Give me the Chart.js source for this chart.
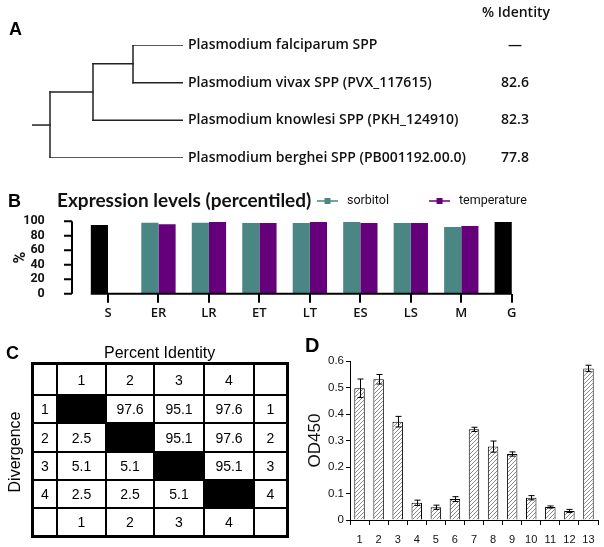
<!DOCTYPE html>
<html>
<head>
<meta charset="utf-8">
<script src="https://cdn.jsdelivr.net/npm/chart.js@4.4.1/dist/chart.umd.min.js"></script>
<style>
  body { margin:0; width:604px; height:547px; position:relative; background:#fff; overflow:hidden; font-family:Arial, "Liberation Sans", sans-serif; }
  canvas { position:absolute; }
  .letter { position:absolute; font:bold 18px Arial, "Liberation Sans", sans-serif; line-height:20px; }
  .ctitle { position:absolute; font:16px Arial, "Liberation Sans", sans-serif; line-height:18px; white-space:nowrap; }
  #tbl { position:absolute; left:31px; top:362px; border:3px solid #000; display:grid;
         grid-template-columns:24px 49px 48px 50px 50px 31px; grid-template-rows:31px 28px 29px 28px 28px 26px; }
  #tbl div { border-right:2px solid #000; border-bottom:2px solid #000; font:14px Arial, "Liberation Sans", sans-serif;
             display:flex; align-items:center; justify-content:center; }
  #tbl div.lastc { border-right:none; }
  #tbl div.lastr { border-bottom:none; }
  #tbl div.diag { background:#000; }
</style>
</head>
<body>
<canvas id="treeChart" width="604" height="175" style="left:0;top:0"></canvas>
<canvas id="exprChart" width="604" height="145" style="left:0;top:185px"></canvas>
<canvas id="odChart" width="304" height="207" style="left:300px;top:340px"></canvas>

<div class="letter" style="left:9px;top:19px">A</div>
<div class="letter" style="left:8px;top:191px">B</div>
<div class="letter" style="left:6px;top:343px">C</div>
<div class="letter" style="left:305px;top:335px;font-size:20px">D</div>

<div class="ctitle" style="left:104px;top:344px">Percent Identity</div>
<div class="ctitle" style="left:15px;top:452px;transform:translate(-50%,-50%) rotate(-90deg)">Divergence</div>
<div id="tbl"></div>

<script>
// ---- Panel A: tree + % identity ----
const leafNames = ["Plasmodium falciparum SPP", "Plasmodium vivax SPP (PVX_117615)",
                   "Plasmodium knowlesi SPP (PKH_124910)", "Plasmodium berghei SPP (PB001192.00.0)"];
const identity = ["\u2014", "82.6", "82.3", "77.8"];
const tree = [[[0, 1], 2], 3];        // nested clades, numbers are leaf indices
const cladeDepth = [18, 61, 101];     // node position of each clade, outer -> inner
const tipDepth = 151;

// ---- Panel B: expression levels ----
const stages = ["S", "ER", "LR", "ET", "LT", "ES", "LS", "M", "G"];
const sorbitol = [null, 98, 98, 97.5, 97.5, 99, 97.5, 92, null];
const temperature = [null, 96, 99, 97.5, 99, 97.5, 97.5, 93.5, null];
const control = [95, null, null, null, null, null, null, null, 99];
const pctTicks = [0, 20, 40, 60, 80, 100];

// ---- Panel C: identity / divergence matrix ----
const seqIds = ["1", "2", "3", "4"];
const matrix = [
  [null, 97.6, 95.1, 97.6],
  [2.5, null, 95.1, 97.6],
  [5.1, 5.1, null, 95.1],
  [2.5, 2.5, 5.1, null]
];

// ---- Panel D: OD450 ----
const samples = ["1","2","3","4","5","6","7","8","9","10","11","12","13"];
const od450 = [0.497, 0.531, 0.371, 0.065, 0.048, 0.079, 0.342, 0.277, 0.249, 0.084, 0.049, 0.034, 0.572];
const od450Err = [0.035, 0.018, 0.02, 0.01, 0.008, 0.009, 0.008, 0.021, 0.008, 0.008, 0.004, 0.006, 0.012];

const teal = "#4a8683", purple = "#65007a";

// tree layout -> line segments in (depth, leaf) units
function layoutTree(node, level, segs) {
  if (typeof node === "number") return node;
  const x = cladeDepth[level];
  const ys = node.map(ch => {
    const y = layoutTree(ch, level + 1, segs);
    const xEnd = typeof ch === "number" ? tipDepth : cladeDepth[level + 1];
    segs.push([{x: x, y: y}, {x: xEnd, y: y}]);
    return y;
  });
  segs.push([{x: x, y: Math.min(...ys)}, {x: x, y: Math.max(...ys)}]);
  return (ys[0] + ys[ys.length - 1]) / 2;
}
const segs = [];
const rootY = layoutTree(tree, 0, segs);
segs.push([{x: 0, y: rootY}, {x: cladeDepth[0], y: rootY}]);

const treeLabels = {
  id: "treeLabels",
  afterDraw(chart) {
    const ctx = chart.ctx, y = chart.scales.y, right = chart.chartArea.right;
    ctx.save();
    ctx.fillStyle = "#111";
    ctx.textBaseline = "middle";
    ctx.font = "600 14px 'Open Sans'";
    ctx.textAlign = "center";
    ctx.fillText("% Identity", 516, 13);
    leafNames.forEach((n, i) => {
      const py = y.getPixelForValue(i);
      ctx.textAlign = "left";
      ctx.fillText(n, right + 5, py);
      ctx.textAlign = "center";
      ctx.fillText(identity[i], 515, py);
    });
    ctx.restore();
  }
};

new Chart(document.getElementById("treeChart"), {
  type: "scatter",
  data: { datasets: segs.map(s => ({ data: s, showLine: true, borderColor: "#222", borderWidth: 1.5,
                                     borderCapStyle: "square", pointRadius: 0 })) },
  options: {
    responsive: false, animation: false,
    layout: { padding: { left: 32, right: 421, top: 45, bottom: 17 } },
    plugins: { legend: { display: false }, tooltip: { enabled: false } },
    scales: {
      x: { type: "linear", min: 0, max: tipDepth, display: false },
      y: { type: "linear", min: 0, max: leafNames.length - 1, reverse: true, display: false }
    }
  },
  plugins: [treeLabels]
});

// ---- Panel B chart ----
function legendMarker(color) {
  const c = document.createElement("canvas");
  c.width = 21; c.height = 8;
  const g = c.getContext("2d");
  g.strokeStyle = color; g.lineWidth = 1.5;
  g.beginPath(); g.moveTo(0, 4); g.lineTo(21, 4); g.stroke();
  g.fillStyle = color; g.fillRect(7.5, 1, 6, 6);
  return c;
}

const exprDecor = {
  id: "exprDecor",
  afterDraw(chart) {
    const ctx = chart.ctx, ys = chart.scales.y, xs = chart.scales.x;
    const axisX = 72;
    ctx.save();
    ctx.strokeStyle = "#000"; ctx.lineWidth = 2;
    ctx.beginPath();
    ctx.moveTo(axisX, ys.getPixelForValue(100)); ctx.lineTo(axisX, ys.getPixelForValue(0));
    pctTicks.forEach(t => { const p = ys.getPixelForValue(t); ctx.moveTo(axisX - 8, p); ctx.lineTo(axisX, p); });
    const first = chart.getDatasetMeta(2).data[0];
    const y0 = ys.getPixelForValue(0);
    ctx.moveTo(first.x - first.width / 2, y0);
    ctx.lineTo(xs.getPixelForTick(stages.length - 1), y0);
    ctx.stroke();
    // title
    ctx.fillStyle = "#111"; ctx.textBaseline = "middle"; ctx.textAlign = "left";
    ctx.font = "bold 19px Lato";
    ctx.fillText("Expression levels (percentiled)", 57, 16);
    // legend
    ctx.font = "12.5px Roboto";
    let lx = 317;
    chart.data.datasets.filter(d => d.label !== "control").forEach(d => {
      ctx.drawImage(legendMarker(d.borderColor), lx, 12);
      ctx.fillText(d.label, lx + 30, 16);
      lx += 30 + ctx.measureText(d.label).width + 40;
    });
    ctx.restore();
  }
};

new Chart(document.getElementById("exprChart"), {
  type: "bar",
  data: {
    labels: stages,
    datasets: [
      { label: "sorbitol", data: sorbitol, backgroundColor: teal, borderColor: teal, stack: "a" },
      { label: "temperature", data: temperature, backgroundColor: purple, borderColor: purple, stack: "b" },
      { label: "control", data: control, backgroundColor: "#000", borderColor: "#000", stack: "a" }
    ]
  },
  options: {
    responsive: false, animation: false,
    categoryPercentage: 0.68, barPercentage: 1.0,
    layout: { padding: { left: 0, right: 67, top: 30, bottom: 0 } },
    plugins: { legend: { display: false }, tooltip: { enabled: false } },
    scales: {
      x: {
        grid: { display: true, drawOnChartArea: false, drawTicks: true, tickLength: 9, offset: false, color: "#000", lineWidth: 2 },
        border: { display: false },
        ticks: { color: "#111", font: { family: "Open Sans", weight: "600", size: 13 }, padding: 3 },
        afterFit(s) { s.height = 34; }
      },
      y: {
        min: 0, max: 100, stacked: false,
        afterBuildTicks(s) { s.ticks = pctTicks.map(v => ({ value: v })); },
        grid: { display: false },
        border: { display: false },
        ticks: { color: "#111", font: { family: "Roboto", weight: "bold", size: 12.5, lineHeight: 1 }, padding: 30, autoSkip: false },
        title: { display: true, text: "%", color: "#111", font: { family: "Roboto", weight: "bold", size: 16 }, padding: { top: 11 } },
        afterFit(s) { s.width = 82.75; }
      }
    }
  },
  plugins: [exprDecor]
});

// ---- Panel C table ----
const tbl = document.getElementById("tbl");
const rows = [["", ...seqIds, ""]];
matrix.forEach((r, i) => rows.push([seqIds[i], ...r.map(v => v === null ? "#" : v.toFixed(1)), seqIds[i]]));
rows.push(["", ...seqIds, ""]);
rows.forEach((r, i) => r.forEach((v, j) => {
  const d = document.createElement("div");
  if (v === "#") d.className = "diag"; else d.textContent = v;
  if (j === r.length - 1) d.classList.add("lastc");
  if (i === rows.length - 1) d.classList.add("lastr");
  tbl.appendChild(d);
}));

// ---- Panel D chart ----
function hatch() {
  const c = document.createElement("canvas");
  c.width = 4; c.height = 4;
  const g = c.getContext("2d");
  g.fillStyle = "#fff"; g.fillRect(0, 0, 4, 4);
  g.strokeStyle = "#8a8a8a"; g.lineWidth = 1;
  g.beginPath(); g.moveTo(-1, 5); g.lineTo(5, -1); g.moveTo(-1, 1); g.lineTo(1, -1); g.moveTo(3, 5); g.lineTo(5, 3); g.stroke();
  return g.createPattern(c, "repeat");
}

const errorBars = {
  id: "errorBars",
  afterDatasetsDraw(chart) {
    const ctx = chart.ctx, ys = chart.scales.y;
    ctx.save();
    ctx.strokeStyle = "#000"; ctx.lineWidth = 1;
    chart.getDatasetMeta(0).data.forEach((bar, i) => {
      const top = ys.getPixelForValue(od450[i] + od450Err[i]);
      const bot = ys.getPixelForValue(od450[i] - od450Err[i]);
      const x = Math.round(bar.x) + 0.5;
      ctx.beginPath();
      ctx.moveTo(x, top); ctx.lineTo(x, bot);
      ctx.moveTo(x - 3, top); ctx.lineTo(x + 3, top);
      ctx.moveTo(x - 3, bot); ctx.lineTo(x + 3, bot);
      ctx.stroke();
    });
    ctx.restore();
  }
};

new Chart(document.getElementById("odChart"), {
  type: "bar",
  data: {
    labels: samples,
    datasets: [{ label: "OD450", data: od450, backgroundColor: hatch(), borderColor: "#000", borderWidth: 1,
                 barPercentage: 0.55, categoryPercentage: 1.0 }]
  },
  options: {
    responsive: false, animation: false,
    layout: { padding: { left: 0, right: 6, top: 21, bottom: 0 } },
    plugins: { legend: { display: false }, tooltip: { enabled: false } },
    scales: {
      x: {
        grid: { display: true, drawOnChartArea: false, drawTicks: true, tickLength: 5, color: "#000" },
        border: { display: true, color: "#000", width: 1 },
        ticks: { color: "#111", font: { family: "Arial", size: 11 }, padding: 8, maxRotation: 0 },
        afterFit(s) { s.height = 27; }
      },
      y: {
        min: 0, max: 0.6,
        ticks: { stepSize: 0.1, color: "#111", font: { family: "Arial", size: 11.5 }, padding: 2,
                 callback: v => v === 0 ? "0" : v.toFixed(1) },
        grid: { display: true, drawOnChartArea: false, drawTicks: true, tickLength: 4, color: "#000" },
        border: { display: true, color: "#000", width: 1 },
        title: { display: true, text: "OD450", color: "#111", font: { family: "Arial", size: 17 }, padding: { top: 5 } },
        afterFit(s) { s.width = 50; }
      }
    }
  },
  plugins: [errorBars]
});
</script>
</body>
</html>
